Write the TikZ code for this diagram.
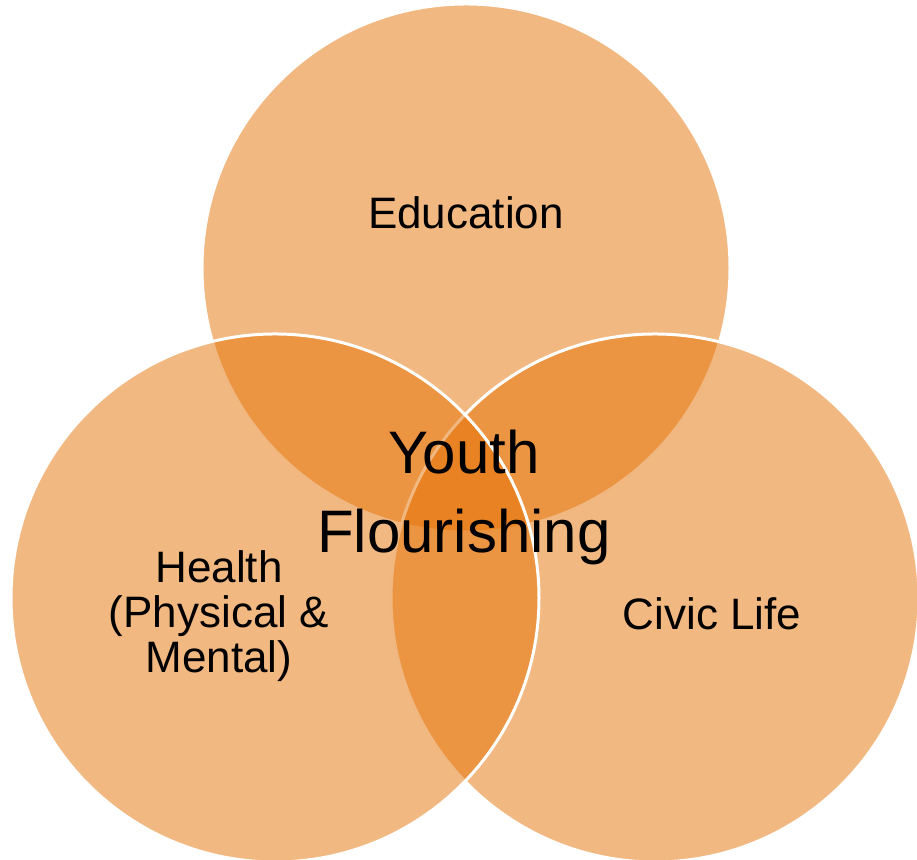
\documentclass[tikz,border=0pt]{standalone}
\usepackage{fontspec}
\setmainfont{Liberation Sans}
\usepackage{tikz}

\definecolor{vennorange}{RGB}{229,113,3}

\begin{document}
\begin{tikzpicture}[x=0.5pt,y=0.5pt,
		venn/.style={circle,minimum size=264pt,inner sep=0pt,fill=vennorange,fill opacity=.5,draw=white,line width=1.5pt},
		label/.style={align=center,text=black}]
		\useasboundingbox (0,0) rectangle (917,860);
		% circles: top, right, left
		\node[venn] (edu) at (466,592) {};
		\node[venn] (civic) at (655,262) {};
		\node[venn] (health) at (275,262) {};
		% texts
		\node[label,anchor=base,font=\fontsize{22}{22.5}\selectfont] (edutext) at (466,631) {Education};
		\node[label,anchor=base,font=\fontsize{22}{22.5}\selectfont] (civictext) at (712,230) {Civic Life};
		\node[label,font=\fontsize{22}{22.5}\selectfont] (healthtext) at (219,244) {Health\\(Physical \&\\Mental)};
		\node[label,font=\fontsize{30}{39.5}\selectfont] (youth) at (464,362) {Youth\\Flourishing};
		\end{tikzpicture}
\end{document}
